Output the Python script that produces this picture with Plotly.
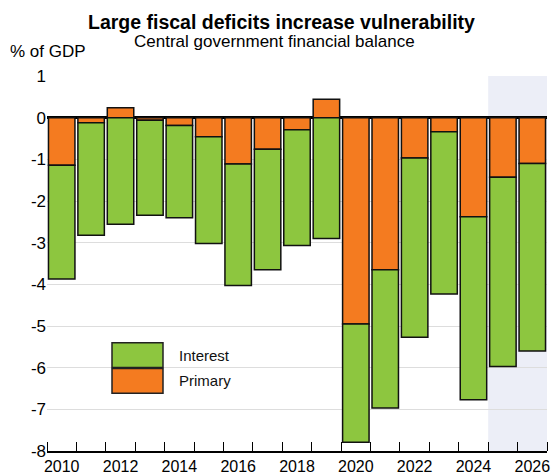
import plotly.graph_objects as go

years = list(range(2010, 2027))
primary = [-1.14, -0.12, 0.24, -0.06, -0.19, -0.46, -1.11, -0.76, -0.29, 0.44,
           -4.95, -3.65, -0.97, -0.34, -2.38, -1.43, -1.10]
interest = [-2.73, -2.70, -2.56, -2.28, -2.21, -2.56, -2.92, -2.89, -2.78, -2.90,
            -2.84, -3.32, -4.30, -3.89, -4.39, -4.54, -4.50]
forecast_years = [2025, 2026]
xtick_years = list(range(2010, 2027, 2))
ytick_vals = list(range(-8, 2))

GREEN = "#8DC63F"
ORANGE = "#F47B20"
FONT = "Liberation Sans, Arial, sans-serif"

fig = go.Figure()
fig.add_trace(go.Bar(x=years, y=primary, name="Primary", marker=dict(color=ORANGE, line=dict(color="#111", width=1.5))))
fig.add_trace(go.Bar(x=years, y=interest, name="Interest", marker=dict(color=GREEN, line=dict(color="#111", width=1.5))))

# forecast shading
fig.add_shape(type="rect", xref="x", yref="paper",
              x0=min(forecast_years) - 0.5, x1=max(forecast_years) + 0.5, y0=0, y1=1,
              fillcolor="#ECEEF7", line=dict(width=0), layer="below")

# custom legend
leg = [("Interest", GREEN), ("Primary", ORANGE)]
for i, (name, col) in enumerate(leg):
    y1 = 0.289 - i * 0.069
    fig.add_shape(type="rect", xref="paper", yref="paper",
                  x0=0.13, x1=0.232, y0=y1 - 0.066, y1=y1,
                  fillcolor=col, line=dict(color="#222", width=1.5))
    fig.add_annotation(xref="paper", yref="paper", x=0.26, y=y1 - 0.033, text=name,
                       showarrow=False, xanchor="left", yanchor="middle",
                       font=dict(size=15, color="#111", family=FONT))

fig.add_annotation(xref="paper", yref="paper", x=0.468, y=1.0, yshift=41,
                   text="<b>Large fiscal deficits increase vulnerability</b>",
                   showarrow=False, xanchor="center", yanchor="bottom",
                   font=dict(size=19.5, color="#000", family=FONT))
fig.add_annotation(xref="paper", yref="paper", x=0.454, y=1.0, yshift=23,
                   text="Central government financial balance",
                   showarrow=False, xanchor="center", yanchor="bottom",
                   font=dict(size=17, color="#000", family=FONT))
fig.add_annotation(xref="paper", yref="paper", x=-0.078, y=1.0, yshift=13, text="% of GDP",
                   showarrow=False, xanchor="left", yanchor="bottom",
                   font=dict(size=17, color="#000", family=FONT))

fig.update_layout(
    width=553, height=474,
    margin=dict(l=47, r=6, t=76, b=23, autoexpand=False),
    barmode="relative", bargap=0.1,
    showlegend=False,
    plot_bgcolor="white", paper_bgcolor="white",
    font=dict(family=FONT, size=17, color="#000"),
    xaxis=dict(range=[2009.5, 2026.5], tickvals=xtick_years, ticktext=[str(y) for y in xtick_years],
               ticks="", showgrid=False, showline=True, linecolor="#000", linewidth=1.5,
               tickfont=dict(size=16), ticklabelstandoff=0, automargin=False,
               minor=dict(ticks="inside", ticklen=9, tickcolor="#000", tickwidth=1.2, tick0=2009.5, dtick=1, showgrid=False)),
    yaxis=dict(range=[-8, 1], tickvals=ytick_vals, ticktext=[str(v) for v in ytick_vals],
               showgrid=True, gridcolor="#DDDDDD", gridwidth=1, ticks="", showline=False, automargin=False,
               zeroline=True, zerolinecolor="#000", zerolinewidth=2.5, tickfont=dict(size=17)),
)

fig.write_html("out.html", config={"displayModeBar": False},
               post_script="document.body.style.margin='0';document.body.style.overflow='hidden';")
